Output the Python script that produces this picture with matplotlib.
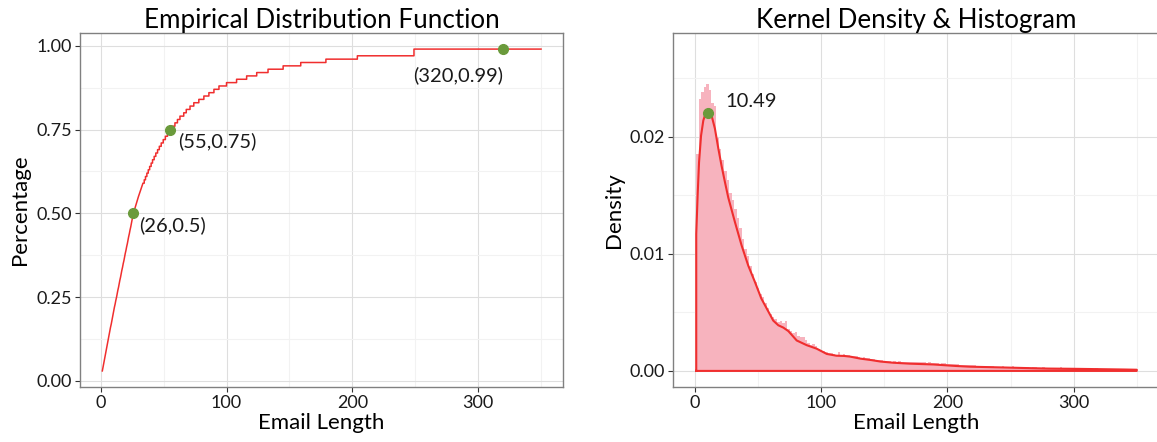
import numpy as np
import matplotlib
matplotlib.use('Agg')
import matplotlib.pyplot as plt
from matplotlib.ticker import MultipleLocator, FormatStrFormatter

plt.rcParams['font.family'] = ['Lato', 'DejaVu Sans']

# ─── ECDF data: email length reached at each percentile 0.03 .. 0.99 ────────
pct_levels = np.arange(3, 100) / 100
pct_lengths = [
    1.3, 1.8, 2.3, 2.8, 3.3, 3.8, 4.3, 4.8, 5.3, 5.8,
    6.3, 6.8, 7.3, 7.8, 8.4, 8.9, 9.4, 9.9, 10.4, 10.9,
    11.5, 12.0, 12.6, 13.1, 13.6, 14.2, 14.7, 15.2, 15.8, 16.3,
    16.8, 17.4, 17.9, 18.5, 19.0, 19.5, 20.1, 20.6, 21.2, 21.7,
    22.2, 22.8, 23.3, 23.9, 24.4, 24.9, 25.5, 26.0, 26.8, 27.6,
    28.4, 29.2, 30.0, 30.9, 31.8, 32.7, 33.6, 34.6, 35.6, 36.7,
    37.8, 38.9, 40.1, 41.2, 42.5, 43.8, 45.2, 46.6, 48.1, 49.7,
    51.4, 53.1, 55.0, 57, 59, 61, 63, 66, 68, 71,
    74, 78, 82, 86, 90, 94, 100, 108, 116, 124,
    133, 145, 159, 179, 204, 249, 249,
]
max_length = 350

marked_lengths = [26, 55, 320]
marked_pcts = [0.5, 0.75, 0.99]

# ─── Histogram (binwidth 2, starting at length 1) ────────────────────────────
bin_width = 2
hist_density = [
    0.0185, 0.0232, 0.0238, 0.0243, 0.0245, 0.0240, 0.0229, 0.0226, 0.0199, 0.0190,
    0.0180, 0.0171, 0.0163, 0.0152, 0.0146, 0.0138, 0.0131, 0.0122, 0.0113, 0.0104,
    0.0098, 0.0090, 0.0083, 0.0076, 0.0071, 0.0066, 0.0063, 0.0058, 0.0054, 0.0049,
    0.0046, 0.0044, 0.0042, 0.0043, 0.0041, 0.0043, 0.0036, 0.0034, 0.0032, 0.0033,
    0.0030, 0.0029, 0.0029, 0.0026, 0.0024, 0.0022, 0.0023, 0.0021, 0.0019, 0.0018,
    0.0017, 0.0016, 0.0015, 0.0015, 0.00145, 0.0014, 0.0016, 0.0014, 0.00142, 0.00138,
    0.0014, 0.0013, 0.00125, 0.00128, 0.0012, 0.00114, 0.00115, 0.0011, 0.00112, 0.00104,
    0.001, 0.00095, 0.0009, 0.00092, 0.00086, 0.00084, 0.00088, 0.0008, 0.00084, 0.0008,
    0.00083, 0.00078, 0.0008, 0.00077, 0.0008, 0.00075, 0.00077, 0.00072, 0.00074, 0.00076,
    0.00072, 0.0007, 0.00072, 0.00067, 0.00064, 0.00066, 0.00062, 0.00064, 0.00066, 0.0006,
    0.00062, 0.00058, 0.00055, 0.00059, 0.00054, 0.00052, 0.0005, 0.00053, 0.00048, 0.0005,
    0.00048, 0.00046, 0.00043, 0.00046, 0.00042, 0.0004, 0.00038, 0.00041, 0.00037, 0.00036,
    0.00036, 0.00041, 0.00035, 0.00036, 0.00033, 0.00038, 0.00032, 0.00034, 0.00031, 0.00033,
    0.0003, 0.00033, 0.00029, 0.00035, 0.0003, 0.00028, 0.00027, 0.0003, 0.00028, 0.00026,
    0.00029, 0.00025, 0.00027, 0.00024, 0.0003, 0.00025, 0.00023, 0.00026, 0.00022, 0.00024,
    0.00023, 0.0002, 0.00025, 0.00021, 0.0002, 0.00022, 0.0002, 0.00019, 0.00023, 0.0002,
    0.00018, 0.0002, 0.00019, 0.00017, 0.0002, 0.00018, 0.00016, 0.00019, 0.00017, 0.00015,
    0.00018, 0.00016, 0.00015, 0.00017, 0.00014,
]
hist_left = 1 + bin_width * np.arange(len(hist_density))

# ─── Kernel density outline ─────────────────────────────────────────────────
dens_x = [1, 1, 2.1, 3.2, 4.8, 6.6, 8.4, 10.5, 13.2, 15.8, 18.5, 21.1, 23.8, 26.4,
          31.7, 37, 42.2, 47.5, 52.5, 57, 62, 66, 70, 74, 80.6, 88.5, 96.4, 104.4,
          112, 118, 123, 131, 140, 147, 157, 170, 189, 207, 218, 242, 260, 280, 300,
          320, 340, 350, 350, 1]
dens_y = [0, 0.0117, 0.0150, 0.0178, 0.0201, 0.0214, 0.0220, 0.0221, 0.0218, 0.0207,
          0.0190, 0.0175, 0.0161, 0.0148, 0.0127, 0.0107, 0.0090, 0.0076, 0.0062,
          0.0053, 0.0043, 0.0039, 0.0037, 0.0034, 0.0026, 0.0022, 0.0019, 0.00145,
          0.0013, 0.00128, 0.00122, 0.00105, 0.00092, 0.0008, 0.0007, 0.00062, 0.00055,
          0.00042, 0.00036, 0.0003, 0.00025, 0.0002, 0.00018, 0.00015, 0.00012,
          0.0001, 0, 0]
mode_length = 10.49
mode_density = 0.0220

RED = '#F02E2E'
GREEN = '#6A9A3B'
PINK = '#F7B3BE'


def style_axes(ax):
    """ggplot theme_bw look."""
    ax.set_facecolor('white')
    ax.grid(which='major', color='#DEDEDE', linewidth=0.8, zorder=0)
    ax.grid(which='minor', color='#F2F2F2', linewidth=0.8, zorder=0)
    ax.set_axisbelow(True)
    for spine in ax.spines.values():
        spine.set_color('#808080')
        spine.set_linewidth(1.0)
    ax.tick_params(which='major', length=3.5, width=0.8, color='#333333',
                   labelsize=13, labelcolor='#1a1a1a', pad=2.5)
    ax.tick_params(which='minor', length=0)


def ecdf_path(lengths, levels, x_end):
    """Step path; tiny steps (dense region) are joined directly so they look smooth."""
    xs, ys = [lengths[0]], [levels[0]]
    for i in range(1, len(lengths)):
        if lengths[i] - lengths[i - 1] >= 1.0:
            xs.append(lengths[i])
            ys.append(levels[i - 1])
        xs.append(lengths[i])
        ys.append(levels[i])
    xs.append(x_end)
    ys.append(levels[-1])
    return xs, ys


fig = plt.figure(figsize=(11.57, 4.42), dpi=100, facecolor='white')

# ─── Left: ECDF ─────────────────────────────────────────────────────────────
ax1 = fig.add_axes([80 / 1157, 55 / 442, 483 / 1157, 354 / 442])
style_axes(ax1)
ex, ey = ecdf_path(pct_lengths, pct_levels, max_length)
ax1.plot(ex, ey, color=RED, linewidth=1.1, zorder=3)
ax1.plot(marked_lengths, marked_pcts, 'o', color=GREEN, markersize=7, zorder=4)
offsets = [((4, -8.5), 'left'), ((6, -8.5), 'left'), ((0, -19), 'right')]
for x, y, (off, ha) in zip(marked_lengths, marked_pcts, offsets):
    ax1.annotate(f'({x},{y:g})', (x, y), xytext=off, textcoords='offset points',
                 ha=ha, va='center', fontsize=14.5, color='#1a1a1a')
ax1.set_xlim(-16.45, 367.45)
ax1.set_ylim(-0.018, 1.038)
ax1.xaxis.set_major_locator(MultipleLocator(100))
ax1.xaxis.set_minor_locator(MultipleLocator(50))
ax1.yaxis.set_major_locator(MultipleLocator(0.25))
ax1.yaxis.set_minor_locator(MultipleLocator(0.125))
ax1.yaxis.set_major_formatter(FormatStrFormatter('%.2f'))
ax1.set_title('Empirical Distribution Function', fontsize=18.7, pad=3)
ax1.set_xlabel('Email Length', fontsize=16, labelpad=1)
ax1.set_ylabel('Percentage', fontsize=16, labelpad=4)

# ─── Right: Kernel Density & Histogram ──────────────────────────────────────
ax2 = fig.add_axes([672.9 / 1157, 55 / 442, 485.9 / 1157, 354 / 442])
style_axes(ax2)
ax2.bar(hist_left, hist_density, width=bin_width, align='edge',
        color=PINK, edgecolor='none', linewidth=0, zorder=2)
ax2.plot(dens_x, dens_y, color=RED, linewidth=1.5, zorder=3)
ax2.plot([mode_length], [mode_density], 'o', color=GREEN, markersize=7, zorder=4)
ax2.annotate(f'{mode_length:.2f}', (mode_length, mode_density), xytext=(12, 8.5),
             textcoords='offset points', ha='left', va='center',
             fontsize=14.5, color='#1a1a1a')
ax2.set_xlim(-17.5, 367.5)
ax2.set_ylim(-0.001375, 0.028875)
ax2.xaxis.set_major_locator(MultipleLocator(100))
ax2.xaxis.set_minor_locator(MultipleLocator(50))
ax2.yaxis.set_major_locator(MultipleLocator(0.01))
ax2.yaxis.set_minor_locator(MultipleLocator(0.005))
ax2.yaxis.set_major_formatter(FormatStrFormatter('%.2f'))
ax2.set_title('Kernel Density & Histogram', fontsize=18.7, pad=3)
ax2.set_xlabel('Email Length', fontsize=16, labelpad=1)
ax2.set_ylabel('Density', fontsize=16, labelpad=4)

fig.savefig('out.png', dpi=100, facecolor='white')
